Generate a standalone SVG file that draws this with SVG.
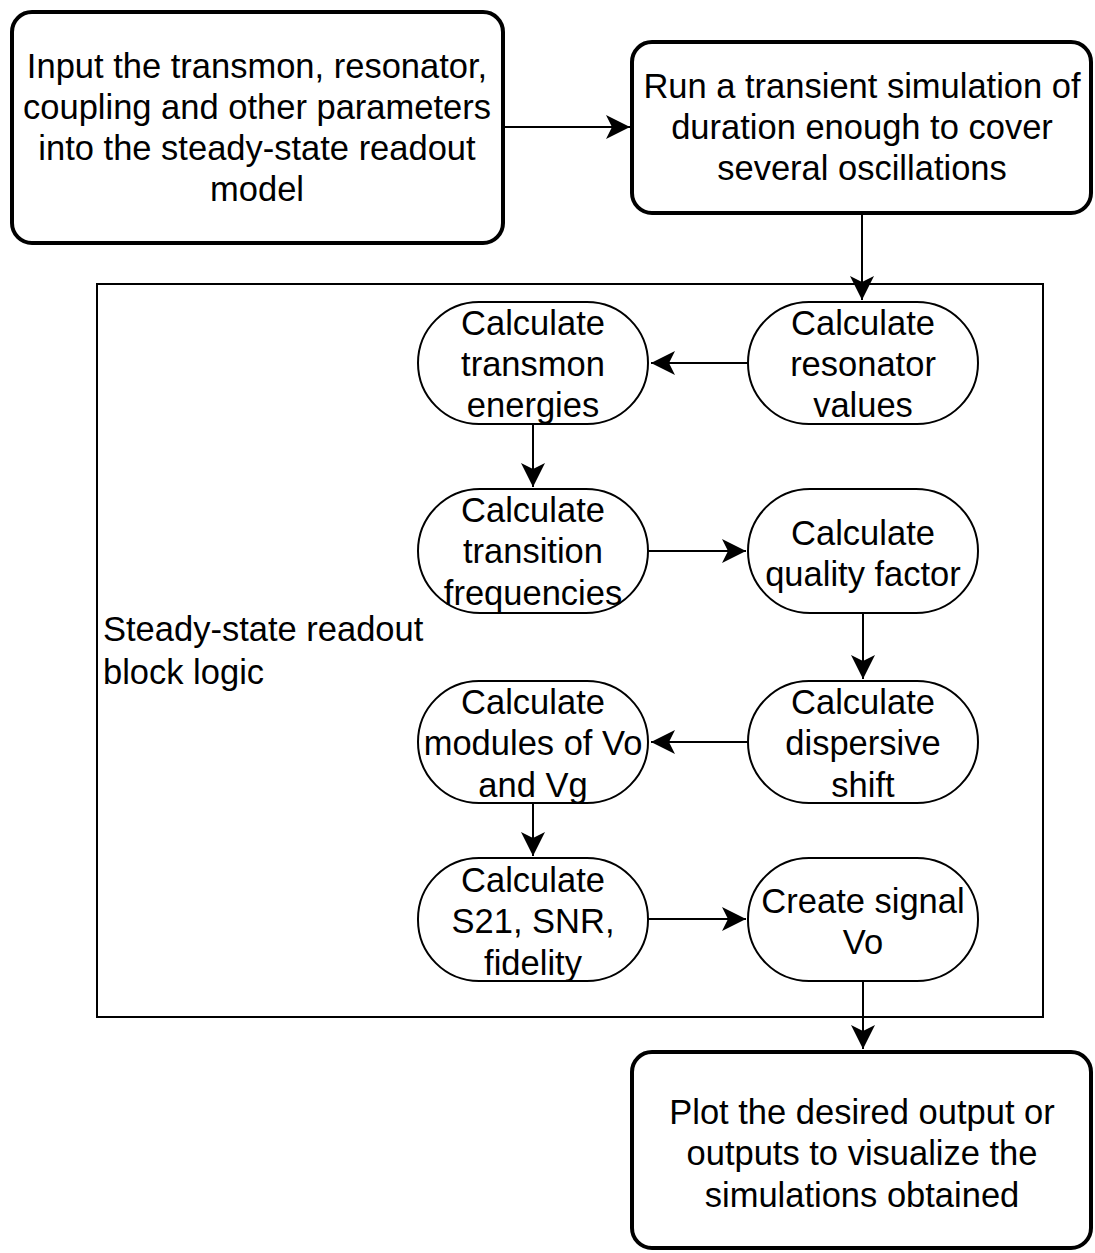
<svg xmlns="http://www.w3.org/2000/svg" width="1095" height="1253" viewBox="0 0 1095 1253">
<defs>
<style>
text{font-family:"Liberation Sans",Arial,sans-serif;font-size:34.5px;fill:#000;text-anchor:middle}
.box{fill:#fff;stroke:#000;stroke-width:4}
.pill{fill:#fff;stroke:#000;stroke-width:2}
.frame{fill:none;stroke:#000;stroke-width:2}
.edge{fill:none;stroke:#000;stroke-width:2;marker-end:url(#arr)}
.lbl{text-anchor:start}
</style>
<marker id="arr" markerUnits="userSpaceOnUse" markerWidth="28" markerHeight="28" viewBox="0 0 28 28" refX="25" refY="14" orient="auto">
<path d="M25,14 L1,2 L7,14 L1,26 Z" fill="#000"/>
</marker>
</defs>
<rect width="1095" height="1253" fill="#fff"/>
<g id="container">
<rect class="frame" x="97" y="284" width="946" height="733"/>
<text class="lbl" x="103" y="641">Steady-state readout</text>
<text class="lbl" x="103" y="684">block logic</text>
</g>
<g id="connectors">
<path class="edge" d="M505,127 H630"/>
<path class="edge" d="M862,215 V300"/>
<path class="edge" d="M748,363 H651"/>
<path class="edge" d="M533,424 V487"/>
<path class="edge" d="M648,551 H746"/>
<path class="edge" d="M863,613 V679"/>
<path class="edge" d="M748,742 H651"/>
<path class="edge" d="M533,803 V856"/>
<path class="edge" d="M648,919 H746"/>
<path class="edge" d="M863,981 V1049"/>
</g>
<g id="input">
<rect class="box" x="12" y="12" width="491" height="231" rx="20"/>
<text x="257" y="78">Input the transmon, resonator,</text>
<text x="257" y="119">coupling and other parameters</text>
<text x="257" y="160">into the steady-state readout</text>
<text x="257" y="201">model</text>
</g>
<g id="transient">
<rect class="box" x="632" y="42" width="459" height="171" rx="20"/>
<text x="862" y="98">Run a transient simulation of</text>
<text x="862" y="139">duration enough to cover</text>
<text x="862" y="180">several oscillations</text>
</g>
<g id="resonator">
<rect class="pill" x="748" y="302" width="230" height="122" rx="61" ry="61"/>
<text x="863" y="335">Calculate</text>
<text x="863" y="376">resonator</text>
<text x="863" y="417">values</text>
</g>
<g id="transmon">
<rect class="pill" x="418" y="302" width="230" height="122" rx="61" ry="61"/>
<text x="533" y="335">Calculate</text>
<text x="533" y="376">transmon</text>
<text x="533" y="417">energies</text>
</g>
<g id="transition">
<rect class="pill" x="418" y="489" width="230" height="124" rx="62" ry="62"/>
<text x="533" y="522">Calculate</text>
<text x="533" y="563">transition</text>
<text x="533" y="605">frequencies</text>
</g>
<g id="quality">
<rect class="pill" x="748" y="489" width="230" height="124" rx="62" ry="62"/>
<text x="863" y="545">Calculate</text>
<text x="863" y="586">quality factor</text>
</g>
<g id="dispersive">
<rect class="pill" x="748" y="681" width="230" height="122" rx="61" ry="61"/>
<text x="863" y="714">Calculate</text>
<text x="863" y="755">dispersive</text>
<text x="863" y="797">shift</text>
</g>
<g id="modules">
<rect class="pill" x="418" y="681" width="230" height="122" rx="61" ry="61"/>
<text x="533" y="714">Calculate</text>
<text x="533" y="755">modules of Vo</text>
<text x="533" y="797">and Vg</text>
</g>
<g id="s21">
<rect class="pill" x="418" y="858" width="230" height="123" rx="61" ry="61"/>
<text x="533" y="892">Calculate</text>
<text x="533" y="933">S21, SNR,</text>
<text x="533" y="975">fidelity</text>
</g>
<g id="signal">
<rect class="pill" x="748" y="858" width="230" height="123" rx="61" ry="61"/>
<text x="863" y="913">Create signal</text>
<text x="863" y="954">Vo</text>
</g>
<g id="plot">
<rect class="box" x="632" y="1052" width="459" height="196" rx="20"/>
<text x="862" y="1124">Plot the desired output or</text>
<text x="862" y="1165">outputs to visualize the</text>
<text x="862" y="1207">simulations obtained</text>
</g>
</svg>
